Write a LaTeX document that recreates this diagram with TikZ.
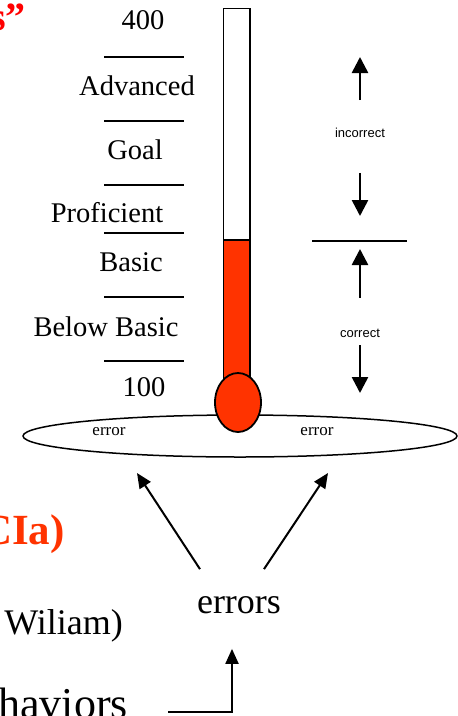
\documentclass[tikz,border=0pt]{standalone}
\usepackage{fontspec}
\setmainfont{Liberation Serif}
\newfontfamily\helv{Liberation Sans}
\usetikzlibrary{shapes.geometric,arrows.meta}
\definecolor{merc}{RGB}{255,51,0}
\definecolor{titlered}{RGB}{255,0,0}
\begin{document}
\begin{tikzpicture}[x=1pt,y=-1pt,
  lbl/.style={inner sep=0pt, font=\fontsize{28.5}{30}\selectfont},
  big/.style={inner sep=0pt, font=\fontsize{36}{40}\selectfont},
  small/.style={inner sep=0pt, font=\fontsize{17}{19}\selectfont},
  sans/.style={inner sep=0pt, font=\helv\fontsize{13}{15}\selectfont},
  tick/.style={line width=2pt},
  glass/.style={draw, line width=1.8pt, inner sep=0pt},
  harrow/.style={line width=2.6pt, -{Triangle[width=16pt,length=16pt]}},
  barrow/.style={line width=2pt, -{Triangle[width=13pt,length=15pt]}}]
\useasboundingbox (0,0) rectangle (458,716);
\clip (0,0) rectangle (458,716);
% slide fragments, cut by the frame as in the reference
\node[inner sep=0pt, anchor=base east, text=titlered, font=\bfseries\fontsize{40}{44}\selectfont] (ttl) at (26,30) {s”};
\node[inner sep=0pt, anchor=base east, text=merc, font=\bfseries\fontsize{43}{46}\selectfont] (cia) at (65,544) {CIa)};
\node[big, anchor=base east] (wil) at (123,634) {Wiliam)};
\node[inner sep=0pt, anchor=base east, font=\fontsize{44}{48}\selectfont] (beh) at (128,718) {haviors};
% base ellipse
\node[glass, line width=1.5pt, fill=white, ellipse, minimum width=434pt, minimum height=42pt] (base) at (240,436) {};
\node[small] (errL) at (109,432) {error};
\node[small] (errR) at (317,432) {error};
% thermometer
\node[glass, fill=white, minimum width=26.5pt, minimum height=232pt] (tube) at (236.75,124.5) {};
\node[glass, fill=merc, minimum width=26.5pt, minimum height=160pt] (mercury) at (236.75,320) {};
\node[glass, fill=merc, ellipse, minimum width=46pt, minimum height=59pt] (bulb) at (238,402.5) {};
% scale
\draw[tick] (104,57) -- (184,57);
\draw[tick] (104,121) -- (184,121);
\draw[tick] (104,185) -- (184,185);
\draw[tick] (104,233) -- (184,233);
\draw[tick] (104,297) -- (184,297);
\draw[tick] (104,361) -- (184,361);
\node[lbl] (l400) at (143,20) {400};
\node[lbl] (ladv) at (137,86) {Advanced};
\node[lbl] (lgoal) at (135,150) {Goal};
\node[lbl] (lprof) at (107,213) {Proficient};
\node[lbl] (lbas) at (131,262) {Basic};
\node[lbl] (lbb) at (106,327) {Below Basic};
\node[lbl] (l100) at (144,387) {100};
% right side
\draw[line width=2.6pt] (312,241) -- (407,241);
\node[sans] (inc) at (360,133) {incorrect};
\node[sans] (cor) at (360,333) {correct};
\coordinate (a1t) at (360,57);
\coordinate (a2t) at (360,216);
\coordinate (a3t) at (360,249);
\coordinate (a4t) at (360,393);
\draw[harrow] ([yshift=28pt]inc.north) -- (a1t);
\draw[harrow] ([yshift=-35pt]inc.south) -- (a2t);
\draw[harrow] ([yshift=31pt]cor.north) -- (a3t);
\draw[harrow] ([yshift=-8pt]cor.south) -- (a4t);
% errors
\node[big] (errs) at (239,605) {errors};
\coordinate (eL) at (137,473);
\coordinate (eR) at (328,473);
\coordinate (hb) at (168,712);
\draw[barrow] ([xshift=-39pt,yshift=27pt]errs.north) -- (eL);
\draw[barrow] ([xshift=25pt,yshift=27pt]errs.north) -- (eR);
\draw[line width=2pt, -{Triangle[width=13pt,length=15pt]}] (hb) -| ([xshift=-7pt,yshift=-35pt]errs.south);
\end{tikzpicture}
\end{document}
